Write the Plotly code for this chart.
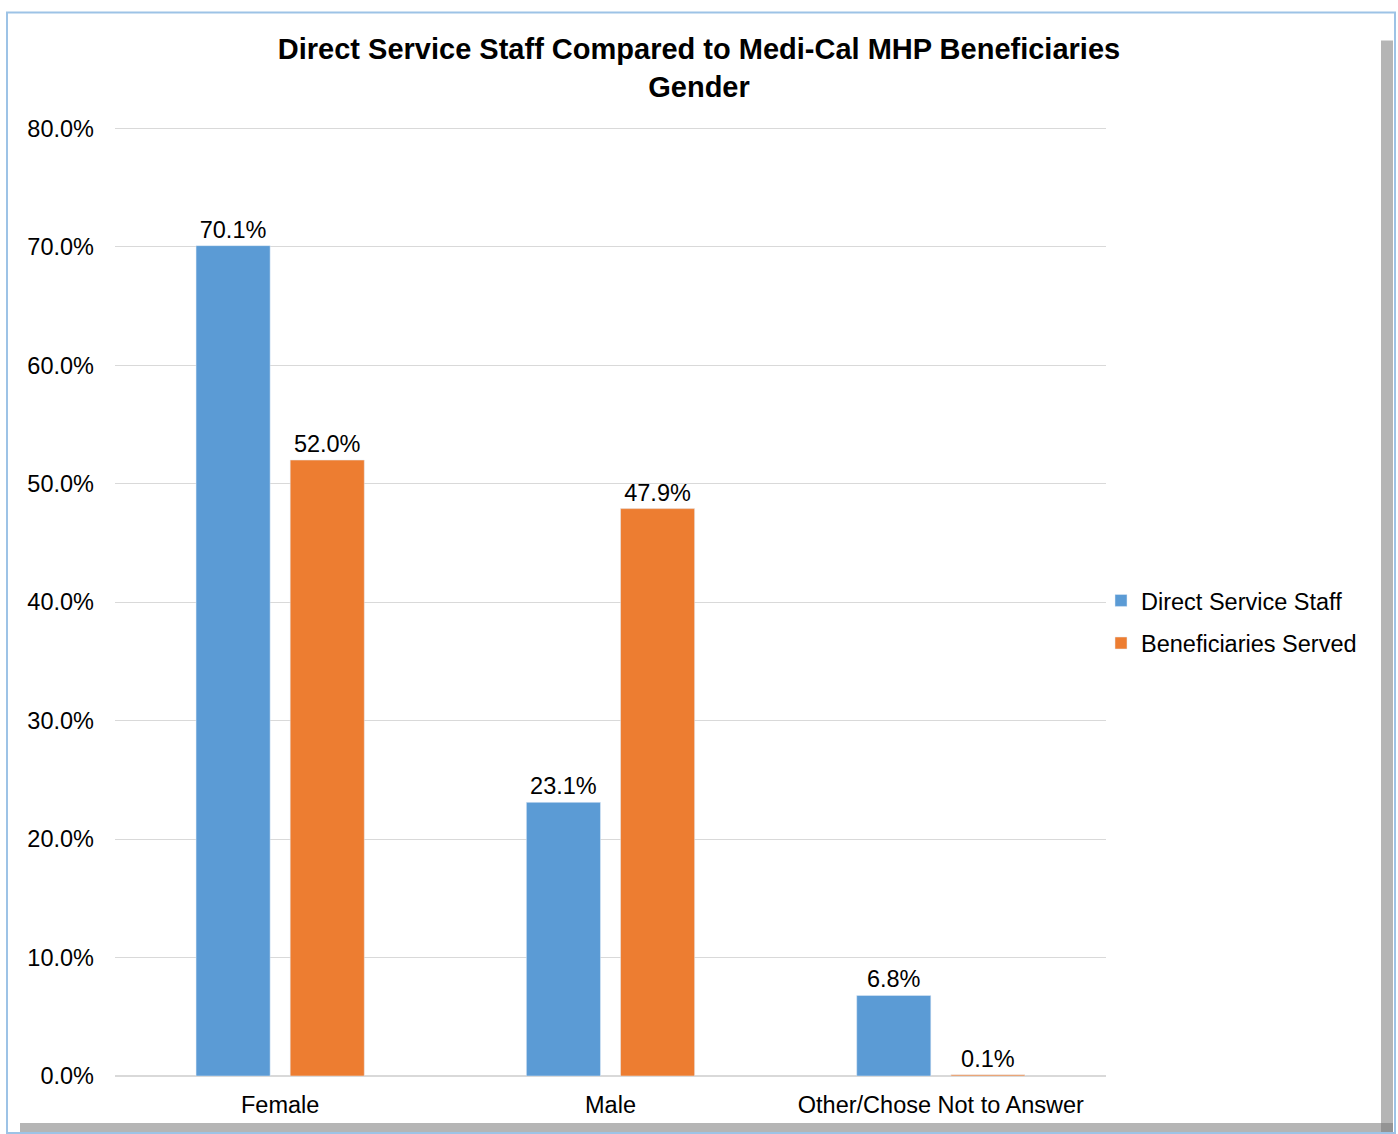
import plotly.graph_objects as go

categories = ["Female", "Male", "Other/Chose Not to Answer"]
staff = [70.1, 23.1, 6.8]
beneficiaries = [52.0, 47.9, 0.1]
series_names = ["Direct Service Staff", "Beneficiaries Served"]
colors = ["#5b9bd5", "#ed7d31"]
y_ticks = [0, 10, 20, 30, 40, 50, 60, 70, 80]
y_tick_labels = [f"{v:.1f}%" for v in y_ticks]

FONT = "Arial, 'Liberation Sans', sans-serif"
W, H = 1398, 1134
L, R, T, B = 115, 1106, 128, 1076
YMAX = 80.2
T_adj = B - (B - T) * YMAX / 80.0
FS = 23.5

fig = go.Figure()
for i, (name, vals) in enumerate(zip(series_names, [staff, beneficiaries])):
    fig.add_trace(go.Bar(
        x=categories, y=vals, name=name, marker_color=colors[i],
        text=[f"{v:.1f}%" for v in vals], textposition="outside",
        textfont=dict(size=FS, color="#000000", family=FONT),
        cliponaxis=False, legendgroup=f"g{i}",
    ))

def px_x(px):
    return (px - L) / (R - L)

def px_y(py):
    return (B - py) / (B - T_adj)

shapes = [
    dict(type="rect", xref="paper", yref="paper", x0=px_x(1381), x1=px_x(1393), y0=px_y(1133), y1=px_y(40),
         fillcolor="rgba(120,120,120,0.55)", line=dict(width=0), layer="below"),
    dict(type="rect", xref="paper", yref="paper", x0=px_x(20), x1=px_x(1393), y0=px_y(1133), y1=px_y(1123),
         fillcolor="rgba(120,120,120,0.55)", line=dict(width=0), layer="below"),
    dict(type="rect", xref="paper", yref="paper", x0=px_x(7), x1=px_x(1395), y0=px_y(1133), y1=px_y(12),
         fillcolor="rgba(0,0,0,0)", line=dict(color="#9dc3e6", width=2), layer="below"),
]

fig.update_layout(
    width=W, height=H,
    margin=dict(l=L, r=W - R, t=T_adj, b=H - B, pad=0),
    paper_bgcolor="#ffffff", plot_bgcolor="#ffffff",
    barmode="group", bargap=0.43, bargroupgap=0.213,
    title=dict(text="<b>Direct Service Staff Compared to Medi-Cal MHP Beneficiaries<br>Gender</b>",
               x=0.5, xref="container", xanchor="center", y=1 - 59 / H, yanchor="middle",
               font=dict(size=29, color="#000000", family=FONT)),
    font=dict(family=FONT, color="#000000", size=FS),
    xaxis=dict(showgrid=False, showline=True, linecolor="#d9d9d9", linewidth=1,
               tickfont=dict(size=FS, color="#000000"), ticks="", ticklabelstandoff=8),
    yaxis=dict(range=[0, YMAX], tickvals=y_ticks, ticktext=y_tick_labels,
               showgrid=True, gridcolor="#d9d9d9", gridwidth=1, zeroline=True, zerolinecolor="#d9d9d9",
               showline=False, ticks="", tickfont=dict(size=FS, color="#000000"), ticklabelstandoff=20),
    legend=dict(x=px_x(1101), xanchor="left", y=px_y(622), yanchor="middle",
                font=dict(size=FS, color="#000000"), tracegroupgap=9, itemwidth=30,
                bgcolor="rgba(0,0,0,0)"),
    shapes=shapes,
    showlegend=True,
)

fig.write_html("out.html", config={"displayModeBar": False},
               post_script="document.body.style.margin='0';document.body.style.overflow='hidden';")
